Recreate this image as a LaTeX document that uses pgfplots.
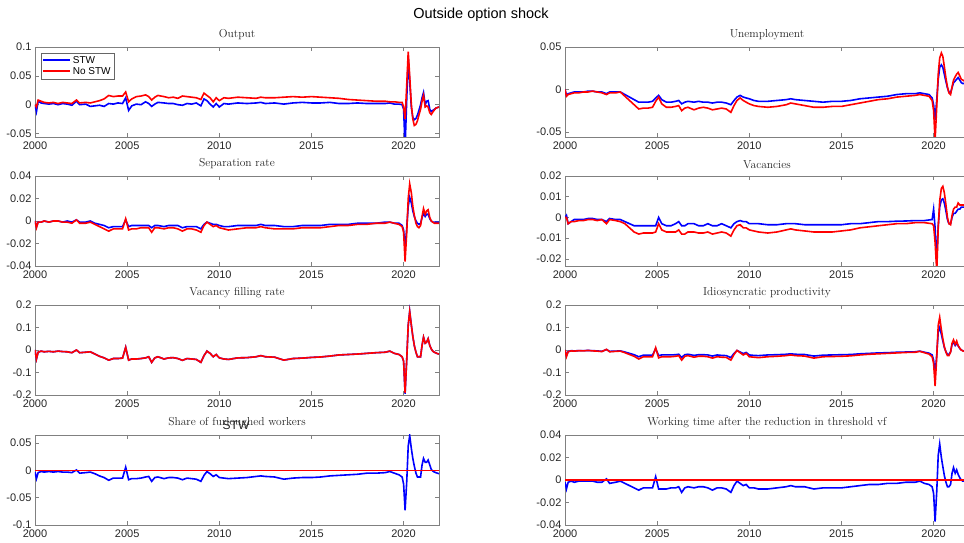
\documentclass[border=0pt]{standalone}
\usepackage{fontspec}
\usepackage{pgfplots}
\usepackage{pgfplotstable}
\pgfplotsset{compat=1.18}
\newfontfamily\hel{Liberation Sans}

\pgfplotstableread{
x outS outN unS unN sepS sepN vacS vacN vfS vfN idS idN shS wtS
2000.00 0.000 0.000 0.000 0.000 0.000 0.000 0.000 0.000 0.000 0.000 0.000 0.000 -0.003 -0.002
2000.08 -0.012 -0.004 -0.007 -0.008 -0.005 -0.006 0.001 0.000 -0.040 -0.040 -0.025 -0.030 -0.015 -0.008
2000.17 0.006 0.008 -0.005 -0.006 -0.001 -0.001 -0.003 -0.003 -0.010 -0.010 -0.007 -0.008 -0.004 -0.002
2000.33 0.003 0.006 -0.004 -0.005 -0.001 -0.001 -0.002 -0.002 -0.005 -0.005 -0.003 -0.004 -0.002 -0.001
2000.50 0.002 0.004 -0.003 -0.004 0.000 0.000 -0.001 -0.002 -0.008 -0.008 -0.004 -0.005 -0.003 -0.002
2000.75 0.001 0.003 -0.003 -0.004 -0.001 -0.001 -0.001 -0.0015 -0.006 -0.006 -0.003 -0.003 -0.002 -0.001
2001.00 0.002 0.004 -0.003 -0.003 0.000 0.000 -0.001 -0.0015 -0.008 -0.008 -0.003 -0.004 -0.003 -0.001
2001.25 0.000 0.002 -0.002 -0.003 0.000 0.000 -0.0005 -0.001 -0.005 -0.005 -0.002 -0.002 -0.002 -0.001
2001.50 0.002 0.004 -0.002 -0.002 -0.001 -0.001 -0.0005 -0.001 -0.007 -0.007 -0.003 -0.004 -0.003 -0.001
2001.75 0.001 0.003 -0.003 -0.003 0.000 -0.001 -0.001 -0.0015 -0.008 -0.008 -0.004 -0.005 -0.003 -0.002
2002.00 -0.001 0.002 -0.003 -0.004 -0.001 -0.002 -0.001 -0.001 -0.012 -0.012 -0.006 -0.007 -0.004 -0.002
2002.25 0.006 0.008 -0.005 -0.006 0.001 0.001 -0.002 -0.003 0.000 0.000 0.002 0.003 0.001 0.001
2002.42 0.000 0.003 -0.003 -0.004 -0.001 -0.002 -0.0005 -0.001 -0.012 -0.012 -0.006 -0.008 -0.005 -0.003
2002.75 0.001 0.004 -0.003 -0.004 -0.001 -0.002 -0.001 -0.0015 -0.010 -0.010 -0.005 -0.006 -0.004 -0.002
2003.00 -0.003 0.003 -0.003 -0.003 0.000 -0.001 -0.001 -0.002 -0.008 -0.008 -0.004 -0.005 -0.003 -0.001
2003.25 -0.002 0.005 -0.006 -0.008 -0.002 -0.003 -0.002 -0.003 -0.018 -0.018 -0.009 -0.012 -0.006 -0.003
2003.50 -0.001 0.007 -0.009 -0.013 -0.003 -0.005 -0.003 -0.005 -0.028 -0.028 -0.015 -0.020 -0.010 -0.005
2003.75 -0.003 0.010 -0.012 -0.018 -0.004 -0.007 -0.004 -0.007 -0.035 -0.035 -0.021 -0.028 -0.013 -0.007
2004.00 0.002 0.016 -0.015 -0.023 -0.006 -0.009 -0.004 -0.008 -0.045 -0.045 -0.030 -0.040 -0.018 -0.009
2004.25 0.001 0.014 -0.015 -0.022 -0.005 -0.007 -0.004 -0.0075 -0.038 -0.038 -0.023 -0.030 -0.014 -0.007
2004.50 0.003 0.015 -0.015 -0.022 -0.005 -0.007 -0.004 -0.0075 -0.038 -0.038 -0.023 -0.030 -0.014 -0.007
2004.75 0.002 0.015 -0.014 -0.021 -0.005 -0.007 -0.004 -0.0075 -0.036 -0.036 -0.023 -0.030 -0.014 -0.007
2004.92 0.012 0.022 -0.010 -0.014 0.001 0.002 -0.004 -0.007 0.012 0.012 0.006 0.010 0.006 0.003
2005.08 -0.010 0.005 -0.007 -0.009 -0.005 -0.008 0.000 -0.003 -0.045 -0.045 -0.025 -0.035 -0.017 -0.008
2005.25 -0.002 0.010 -0.012 -0.017 -0.004 -0.007 -0.003 -0.006 -0.040 -0.040 -0.022 -0.030 -0.015 -0.008
2005.50 0.001 0.014 -0.015 -0.021 -0.004 -0.007 -0.004 -0.007 -0.040 -0.040 -0.022 -0.030 -0.015 -0.008
2005.75 0.000 0.015 -0.015 -0.021 -0.004 -0.006 -0.004 -0.007 -0.038 -0.038 -0.022 -0.030 -0.014 -0.007
2006.00 0.005 0.017 -0.014 -0.020 -0.004 -0.006 -0.003 -0.007 -0.035 -0.035 -0.021 -0.028 -0.012 -0.007
2006.17 0.002 0.014 -0.013 -0.019 -0.004 -0.006 -0.002 -0.006 -0.030 -0.030 -0.019 -0.025 -0.011 -0.006
2006.33 -0.003 0.008 -0.017 -0.025 -0.006 -0.010 -0.004 -0.008 -0.055 -0.055 -0.033 -0.045 -0.020 -0.011
2006.50 0.001 0.013 -0.015 -0.022 -0.004 -0.006 -0.004 -0.008 -0.035 -0.035 -0.021 -0.028 -0.013 -0.007
2006.67 0.004 0.016 -0.014 -0.021 -0.004 -0.006 -0.003 -0.007 -0.030 -0.030 -0.019 -0.025 -0.012 -0.006
2007.00 0.003 0.014 -0.015 -0.024 -0.005 -0.007 -0.003 -0.007 -0.040 -0.040 -0.024 -0.032 -0.015 -0.007
2007.25 0.002 0.012 -0.014 -0.022 -0.004 -0.006 -0.004 -0.0075 -0.035 -0.035 -0.021 -0.028 -0.013 -0.006
2007.50 0.002 0.013 -0.015 -0.021 -0.004 -0.006 -0.004 -0.0075 -0.034 -0.034 -0.021 -0.028 -0.013 -0.006
2007.75 0.000 0.011 -0.015 -0.022 -0.004 -0.007 -0.003 -0.007 -0.038 -0.038 -0.022 -0.030 -0.014 -0.007
2008.00 -0.001 0.015 -0.016 -0.024 -0.006 -0.009 -0.004 -0.008 -0.046 -0.046 -0.027 -0.036 -0.017 -0.009
2008.25 0.002 0.014 -0.015 -0.023 -0.005 -0.007 -0.004 -0.0075 -0.038 -0.038 -0.022 -0.030 -0.014 -0.007
2008.50 0.001 0.013 -0.015 -0.022 -0.005 -0.007 -0.003 -0.007 -0.040 -0.040 -0.024 -0.032 -0.015 -0.007
2008.75 0.003 0.012 -0.016 -0.023 -0.005 -0.008 -0.004 -0.0075 -0.042 -0.042 -0.025 -0.033 -0.016 -0.008
2009.00 -0.002 0.009 -0.018 -0.027 -0.007 -0.010 -0.005 -0.009 -0.055 -0.055 -0.034 -0.045 -0.020 -0.011
2009.17 0.010 0.020 -0.013 -0.019 -0.003 -0.004 -0.003 -0.006 -0.025 -0.025 -0.015 -0.020 -0.009 -0.005
2009.33 0.007 0.016 -0.009 -0.013 -0.001 -0.001 -0.002 -0.004 -0.005 -0.005 -0.002 -0.002 -0.002 -0.001
2009.50 0.001 0.012 -0.007 -0.010 -0.002 -0.003 -0.0015 -0.0035 -0.015 -0.015 -0.009 -0.012 -0.006 -0.003
2009.67 -0.004 0.005 -0.009 -0.013 -0.003 -0.005 -0.002 -0.005 -0.030 -0.030 -0.016 -0.022 -0.011 -0.005
2009.83 0.002 0.012 -0.010 -0.015 -0.003 -0.004 -0.002 -0.005 -0.020 -0.020 -0.011 -0.015 -0.008 -0.004
2010.00 -0.004 0.007 -0.011 -0.017 -0.004 -0.006 -0.003 -0.006 -0.035 -0.035 -0.022 -0.030 -0.013 -0.007
2010.25 0.002 0.012 -0.013 -0.019 -0.005 -0.007 -0.003 -0.0065 -0.040 -0.040 -0.024 -0.032 -0.014 -0.007
2010.50 0.001 0.011 -0.014 -0.020 -0.005 -0.008 -0.003 -0.007 -0.042 -0.042 -0.025 -0.034 -0.015 -0.008
2011.00 0.003 0.013 -0.014 -0.021 -0.004 -0.007 -0.0035 -0.0075 -0.035 -0.035 -0.022 -0.030 -0.014 -0.008
2011.50 0.002 0.012 -0.013 -0.020 -0.004 -0.006 -0.0035 -0.007 -0.034 -0.034 -0.021 -0.028 -0.013 -0.007
2012.00 0.003 0.011 -0.012 -0.018 -0.004 -0.006 -0.003 -0.006 -0.030 -0.030 -0.019 -0.025 -0.011 -0.006
2012.25 0.004 0.013 -0.011 -0.016 -0.003 -0.005 -0.003 -0.0055 -0.025 -0.025 -0.017 -0.022 -0.010 -0.005
2012.50 0.002 0.012 -0.012 -0.017 -0.004 -0.006 -0.003 -0.006 -0.030 -0.030 -0.019 -0.025 -0.011 -0.006
2013.00 0.003 0.012 -0.013 -0.019 -0.004 -0.007 -0.0035 -0.0065 -0.032 -0.032 -0.020 -0.027 -0.012 -0.006
2013.50 0.001 0.013 -0.014 -0.021 -0.005 -0.007 -0.0035 -0.007 -0.045 -0.045 -0.027 -0.036 -0.016 -0.008
2014.00 0.003 0.014 -0.015 -0.021 -0.005 -0.007 -0.0035 -0.007 -0.038 -0.038 -0.023 -0.030 -0.014 -0.007
2014.50 0.004 0.013 -0.014 -0.020 -0.004 -0.006 -0.0035 -0.007 -0.036 -0.036 -0.022 -0.029 -0.013 -0.007
2015.00 0.003 0.014 -0.014 -0.020 -0.004 -0.006 -0.0035 -0.0065 -0.033 -0.033 -0.021 -0.028 -0.013 -0.007
2015.50 0.003 0.013 -0.013 -0.018 -0.004 -0.006 -0.003 -0.006 -0.031 -0.031 -0.020 -0.026 -0.012 -0.006
2016.00 0.004 0.012 -0.011 -0.016 -0.003 -0.005 -0.003 -0.005 -0.027 -0.027 -0.017 -0.022 -0.010 -0.005
2016.50 0.002 0.011 -0.010 -0.014 -0.003 -0.004 -0.0025 -0.0045 -0.022 -0.022 -0.015 -0.019 -0.009 -0.004
2017.00 0.002 0.009 -0.009 -0.012 -0.003 -0.004 -0.002 -0.004 -0.020 -0.020 -0.013 -0.017 -0.008 -0.004
2017.50 0.003 0.008 -0.008 -0.011 -0.002 -0.003 -0.002 -0.0035 -0.018 -0.018 -0.012 -0.015 -0.007 -0.003
2018.00 0.002 0.007 -0.006 -0.009 -0.002 -0.003 -0.0018 -0.003 -0.015 -0.015 -0.010 -0.013 -0.005 -0.003
2018.50 0.002 0.006 -0.005 -0.008 -0.002 -0.002 -0.0017 -0.003 -0.012 -0.012 -0.009 -0.011 -0.005 -0.002
2019.00 0.002 0.006 -0.005 -0.007 -0.001 -0.002 -0.0015 -0.0025 -0.010 -0.010 -0.008 -0.010 -0.004 -0.002
2019.25 0.003 0.005 -0.004 -0.006 -0.001 -0.001 -0.0015 -0.0025 -0.005 -0.005 -0.005 -0.006 -0.002 -0.001
2019.50 0.001 0.005 -0.005 -0.007 -0.002 -0.002 -0.0015 -0.0025 -0.015 -0.015 -0.010 -0.012 -0.005 -0.003
2019.75 0.001 0.004 -0.006 -0.008 -0.002 -0.003 -0.0012 -0.0028 -0.020 -0.020 -0.014 -0.018 -0.008 -0.004
2019.92 0.000 0.004 -0.010 -0.013 -0.004 -0.005 -0.001 -0.003 -0.030 -0.030 -0.022 -0.030 -0.012 -0.006
2020.00 -0.008 -0.004 -0.018 -0.025 -0.008 -0.010 0.004 -0.004 -0.050 -0.050 -0.045 -0.060 -0.025 -0.012
2020.08 -0.075 -0.025 -0.036 -0.060 -0.024 -0.036 -0.005 -0.012 -0.195 -0.190 -0.110 -0.160 -0.073 -0.037
2020.17 0.010 0.035 -0.012 -0.020 -0.006 -0.010 -0.021 -0.026 -0.040 -0.040 -0.020 -0.030 -0.020 -0.010
2020.25 0.080 0.092 0.012 0.018 0.013 0.020 -0.004 -0.005 0.110 0.110 0.080 0.110 0.045 0.022
2020.33 0.040 0.050 0.026 0.037 0.021 0.033 0.005 0.008 0.172 0.170 0.100 0.145 0.064 0.032
2020.42 -0.005 0.000 0.029 0.043 0.016 0.025 0.0085 0.014 0.110 0.110 0.070 0.090 0.040 0.020
2020.50 -0.022 -0.025 0.026 0.039 0.009 0.013 0.009 0.015 0.060 0.060 0.040 0.050 0.022 0.012
2020.58 -0.026 -0.036 0.018 0.027 0.004 0.005 0.007 0.012 0.020 0.020 0.012 0.015 0.008 0.004
2020.67 -0.024 -0.034 0.009 0.013 0.000 -0.002 0.003 0.006 -0.010 -0.010 -0.008 -0.010 -0.005 -0.002
2020.75 -0.018 -0.028 0.002 0.003 -0.002 -0.005 -0.001 0.000 -0.030 -0.030 -0.020 -0.025 -0.012 -0.006
2020.83 -0.010 -0.018 -0.003 -0.004 -0.003 -0.006 -0.003 -0.003 -0.030 -0.030 -0.020 -0.025 -0.012 -0.006
2020.92 0.000 -0.008 -0.004 -0.006 -0.002 -0.004 -0.003 -0.0035 -0.030 -0.030 -0.008 -0.010 -0.012 -0.004
2021.00 0.012 0.006 0.002 0.003 0.003 0.004 0.000 0.001 0.020 0.020 0.025 0.030 0.010 0.006
2021.08 0.021 0.016 0.008 0.011 0.007 0.011 0.002 0.004 0.057 0.057 0.035 0.045 0.022 0.011
2021.17 0.000 -0.004 0.010 0.015 0.004 0.006 0.002 0.005 0.030 0.030 0.020 0.025 0.015 0.006
2021.25 0.006 -0.002 0.012 0.018 0.006 0.009 0.003 0.005 0.035 0.035 0.030 0.040 0.015 0.009
2021.33 0.007 -0.004 0.014 0.020 0.006 0.010 0.004 0.007 0.050 0.050 0.018 0.020 0.019 0.005
2021.42 -0.008 -0.014 0.011 0.016 0.002 0.003 0.004 0.006 0.020 0.020 0.007 0.008 0.010 0.002
2021.50 -0.012 -0.017 0.008 0.012 0.000 0.000 0.005 0.006 0.005 0.005 0.000 0.000 0.002 0.000
2021.58 -0.010 -0.013 0.007 0.011 -0.001 -0.001 0.005 0.006 -0.005 -0.005 -0.003 -0.004 -0.001 -0.001
2021.67 -0.008 -0.009 0.007 0.010 -0.001 -0.002 0.005 0.006 -0.010 -0.010 -0.005 -0.006 -0.003 -0.001
2021.75 -0.006 -0.006 0.007 0.010 -0.001 -0.002 0.005 0.006 -0.013 -0.013 -0.006 -0.008 -0.004 -0.002
2021.83 -0.005 -0.005 0.007 0.010 -0.001 -0.002 0.005 0.006 -0.016 -0.016 -0.007 -0.009 -0.005 -0.002
2021.92 -0.004 -0.004 0.007 0.010 -0.001 -0.002 0.005 0.006 -0.018 -0.018 -0.008 -0.010 -0.006 -0.002
}\data

\pgfplotsset{
  stw/.style={blue, line width=1.6pt},
  nostw/.style={red, line width=1.6pt},
  panel/.style={
    width=404pt, height=90pt, scale only axis,
    anchor=south west,
    xmin=2000, xmax=2021.92,
    xtick={2000,2005,2010,2015,2020},
    tick align=inside, major tick length=4pt,
    axis line style={black!50, line width=0.5pt},
    tick style={black!50, line width=0.5pt},
    tick label style={font=\hel\fontsize{11}{13}\selectfont, text=black!85},
    xticklabel style={yshift=-1.5pt},
    /pgf/number format/assume math mode=true,
    /pgf/number format/fixed,
    /pgf/number format/precision=2,
    /pgf/number format/1000 sep={},
    scaled y ticks=false,
    title style={font=\fontsize{11.5}{13}\selectfont, text=black!85, yshift=-2pt},
  }
}

\begin{document}
\begin{tikzpicture}
\useasboundingbox (0pt,0pt) rectangle (964pt,543pt);
\node[font=\hel\fontsize{14.5}{16}\selectfont] at (481pt,528pt) {Outside option shock};

% Output
\begin{axis}[panel, at={(35pt,406pt)}, ymin=-0.056, ymax=0.1, ytick={-0.05,0,0.05,0.1},
  title={Output},
  legend style={at={(0.014,0.937)}, anchor=north west, draw=black!60,
    font=\hel\fontsize{10}{11}\selectfont, inner sep=1.2pt, row sep=-1pt},
  legend cell align=left,
  legend image code/.code={\draw[#1, line width=1.8pt] (0pt,0.5pt) -- (27pt,0.5pt);}]
\addplot[stw] table[x=x, y=outS] {\data};
\addlegendentry{STW}
\addplot[nostw] table[x=x, y=outN] {\data};
\addlegendentry{No STW}
\end{axis}

% Unemployment
\begin{axis}[panel, at={(565pt,406pt)}, ymin=-0.056, ymax=0.05, ytick={-0.05,0,0.05},
  title={Unemployment}]
\addplot[stw] table[x=x, y=unS] {\data};
\addplot[nostw] table[x=x, y=unN] {\data};
\end{axis}

% Separation rate
\begin{axis}[panel, at={(35pt,277pt)}, ymin=-0.04, ymax=0.04, ytick={-0.04,-0.02,0,0.02,0.04},
  title={Separation rate}]
\addplot[stw] table[x=x, y=sepS] {\data};
\addplot[nostw] table[x=x, y=sepN] {\data};
\end{axis}

% Vacancies
\begin{axis}[panel, at={(565pt,277pt)}, ymin=-0.0234, ymax=0.02, ytick={-0.02,-0.01,0,0.01,0.02},
  title={Vacancies}]
\addplot[stw] table[x=x, y=vacS] {\data};
\addplot[nostw] table[x=x, y=vacN] {\data};
\end{axis}

% Vacancy filling rate
\begin{axis}[panel, at={(35pt,148pt)}, ymin=-0.2, ymax=0.2, ytick={-0.2,-0.1,0,0.1,0.2},
  title={Vacancy filling rate}]
\addplot[stw] table[x=x, y=vfS] {\data};
\addplot[nostw] table[x=x, y=vfN] {\data};
\end{axis}

% Idiosyncratic productivity
\begin{axis}[panel, at={(565pt,148pt)}, ymin=-0.2, ymax=0.2, ytick={-0.2,-0.1,0,0.1,0.2},
  title={Idiosyncratic productivity}]
\addplot[stw] table[x=x, y=idS] {\data};
\addplot[nostw] table[x=x, y=idN] {\data};
\end{axis}

% Share of furloughed workers
\begin{axis}[panel, at={(35pt,18pt)}, ymin=-0.1, ymax=0.065, ytick={-0.1,-0.05,0,0.05},
  title={Share of furloughed workers}]
\addplot[stw] table[x=x, y=shS] {\data};
\addplot[nostw, line width=1.8pt] coordinates {(2000,0) (2021.92,0)};
\end{axis}
\node[font=\hel\fontsize{12}{14}\selectfont, text=black!85] at (236pt,118pt) {STW};

% Working time
\begin{axis}[panel, at={(565pt,18pt)}, ymin=-0.04, ymax=0.04, ytick={-0.04,-0.02,0,0.02,0.04},
  title={Working time after the reduction in threshold vf}]
\addplot[stw] table[x=x, y=wtS] {\data};
\addplot[nostw] coordinates {(2000,0) (2021.92,0)};
\end{axis}
\end{tikzpicture}
\end{document}
